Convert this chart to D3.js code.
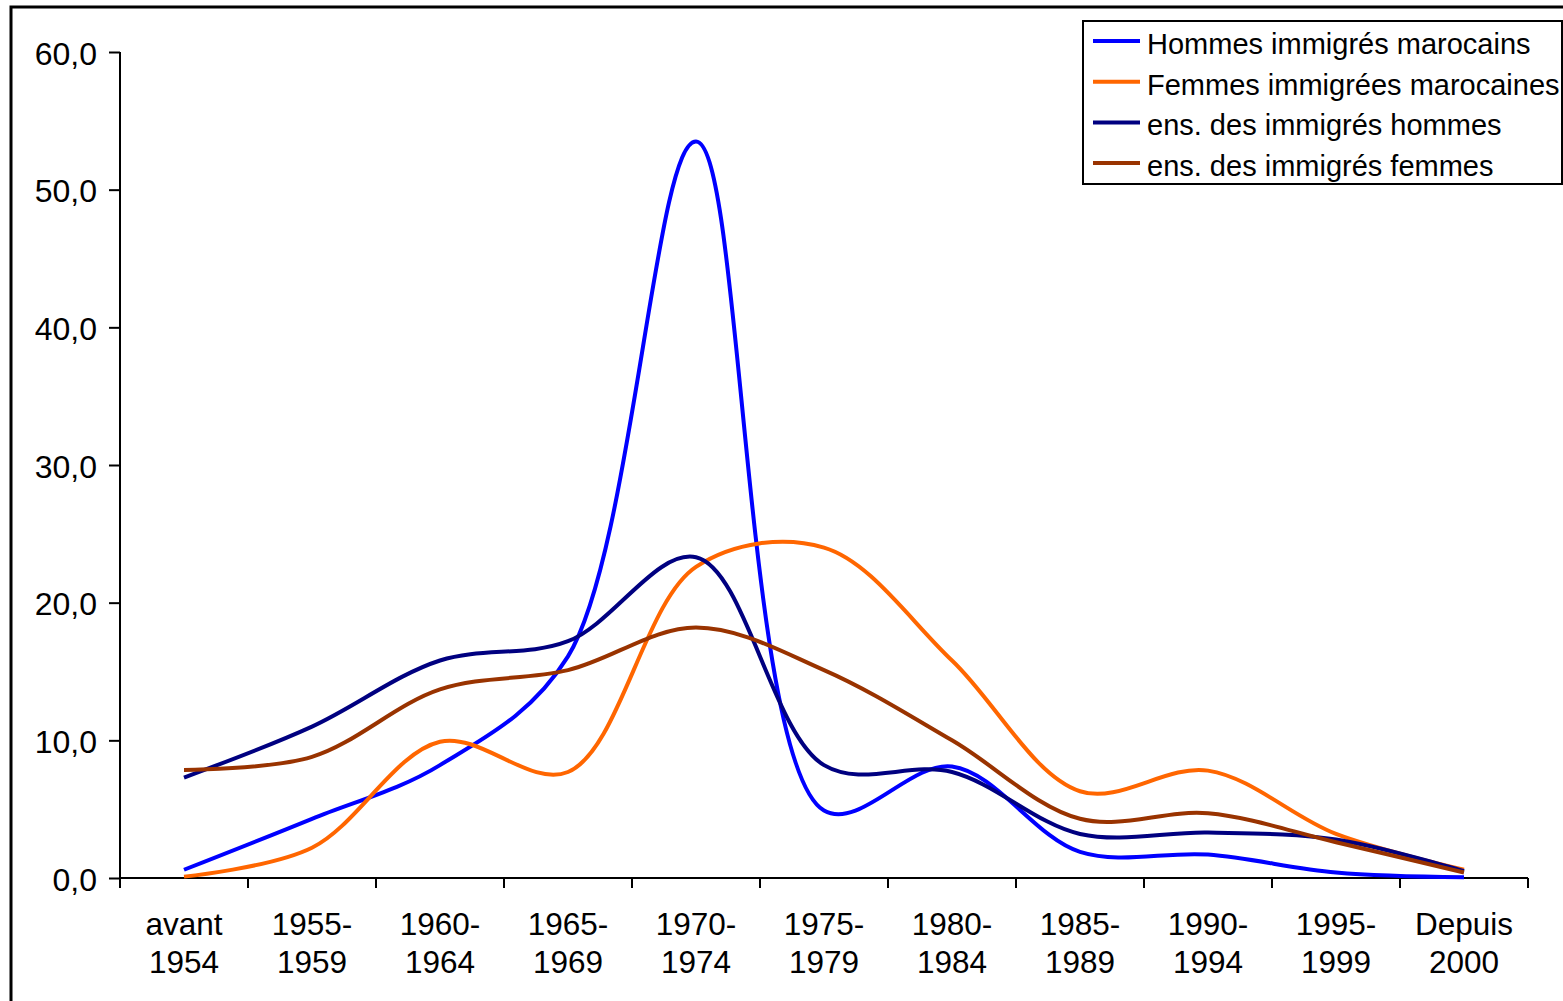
<!DOCTYPE html>
<html>
<head>
<meta charset="utf-8">
<script src="https://cdn.jsdelivr.net/npm/d3@7"></script>
<style>
  body { margin: 0; background: #fff; }
  svg text { font-family: Arial, "Liberation Sans", sans-serif; fill: #000; }
</style>
</head>
<body>
<svg id="chart" width="1563" height="1001"></svg>
<script>
// categories (two label lines each)
const categories = ["avant 1954", "1955-1959", "1960-1964", "1965-1969", "1970-1974",
  "1975-1979", "1980-1984", "1985-1989", "1990-1994", "1995-1999", "Depuis 2000"];
const catLines = [["avant", "1954"], ["1955-", "1959"], ["1960-", "1964"], ["1965-", "1969"],
  ["1970-", "1974"], ["1975-", "1979"], ["1980-", "1984"], ["1985-", "1989"],
  ["1990-", "1994"], ["1995-", "1999"], ["Depuis", "2000"]];

// series values (%)
const hommesMarocains  = [0.6, 4.3, 8.2, 16.1, 53.5, 4.9, 8.1, 1.9, 1.7, 0.4, 0.05];
const femmesMarocaines = [0.1, 2.2, 9.9, 7.7, 22.6, 24.0, 15.8, 6.3, 7.8, 3.2, 0.6];
const ensHommes        = [7.3, 11.0, 15.8, 17.2, 23.3, 8.2, 7.7, 3.2, 3.3, 2.8, 0.5];
const ensFemmes        = [7.85, 8.8, 13.7, 15.1, 18.2, 15.1, 10.0, 4.3, 4.7, 2.6, 0.4];

const seriesNames = ["Hommes immigrés marocains", "Femmes immigrées marocaines",
  "ens. des immigrés hommes", "ens. des immigrés femmes"];
const seriesColors = ["#0000ff", "#ff6600", "#000080", "#993300"];
const yTicks = [0, 10, 20, 30, 40, 50, 60];

const svg = d3.select("#chart");

// outer frame (runs off the right / bottom of the picture)
svg.append("rect")
  .attr("x", 11).attr("y", 7)
  .attr("width", 1700).attr("height", 1200)
  .attr("fill", "none").attr("stroke", "#000").attr("stroke-width", 3);

const x = d3.scaleBand().domain(categories).range([120, 1528]).padding(0);
const y = d3.scaleLinear().domain([0, 60]).range([878, 52]);
const fmt = v => d3.format(".1f")(v).replace(".", ",");

// y axis
const yAxis = svg.append("g")
  .attr("transform", "translate(120,0)")
  .call(d3.axisLeft(y).tickValues(yTicks).tickSize(11).tickPadding(12).tickFormat(fmt));
yAxis.selectAll("path, line").attr("stroke", "#000").attr("stroke-width", 2);
yAxis.select(".domain").attr("d", "M0," + y(60) + "V" + y(0));
yAxis.selectAll("text")
  .attr("font-size", 32).attr("dy", "0.38em")
  .style("font-family", "Arial, 'Liberation Sans', sans-serif");

// x axis: line + ticks at category boundaries
const xg = svg.append("g");
xg.append("line")
  .attr("x1", x.range()[0]).attr("x2", x.range()[1])
  .attr("y1", y(0)).attr("y2", y(0))
  .attr("stroke", "#000").attr("stroke-width", 2);
const bounds = categories.map(c => x(c)).concat([x.range()[1]]);
xg.selectAll("line.tick").data(bounds).enter().append("line")
  .attr("class", "tick")
  .attr("x1", d => d).attr("x2", d => d)
  .attr("y1", y(0)).attr("y2", y(0) + 10)
  .attr("stroke", "#000").attr("stroke-width", 2);
const labels = xg.selectAll("text").data(categories).enter().append("text")
  .attr("text-anchor", "middle")
  .attr("font-size", 31.5);
labels.each(function(c, i) {
  const t = d3.select(this);
  const cx = x(c) + x.bandwidth() / 2;
  t.append("tspan").attr("x", cx).attr("y", 935).text(catLines[i][0]);
  t.append("tspan").attr("x", cx).attr("y", 973).text(catLines[i][1]);
});

// lines
const allSeries = [hommesMarocains, femmesMarocaines, ensHommes, ensFemmes];
const line = d3.line()
  .x((d, i) => x(categories[i]) + x.bandwidth() / 2)
  .y(d => y(d))
  .curve(d3.curveCatmullRom.alpha(0.5));

svg.append("g").selectAll("path").data(allSeries).enter().append("path")
  .attr("d", line)
  .attr("fill", "none")
  .attr("stroke", (d, i) => seriesColors[i])
  .attr("stroke-width", 4)
  .attr("stroke-linejoin", "round");

// legend
const lg = svg.append("g");
lg.append("rect")
  .attr("x", 1083).attr("y", 21).attr("width", 479).attr("height", 163)
  .attr("fill", "#fff").attr("stroke", "#000").attr("stroke-width", 2);
const rows = lg.selectAll("g.row").data(seriesNames).enter().append("g")
  .attr("class", "row")
  .attr("transform", (d, i) => "translate(0," + (41 + i * 40.7) + ")");
rows.append("line")
  .attr("x1", 1093).attr("x2", 1140)
  .attr("stroke", (d, i) => seriesColors[i]).attr("stroke-width", 4);
rows.append("text")
  .attr("x", 1147).attr("y", 13)
  .attr("font-size", 29)
  .text(d => d);
</script>
</body>
</html>
